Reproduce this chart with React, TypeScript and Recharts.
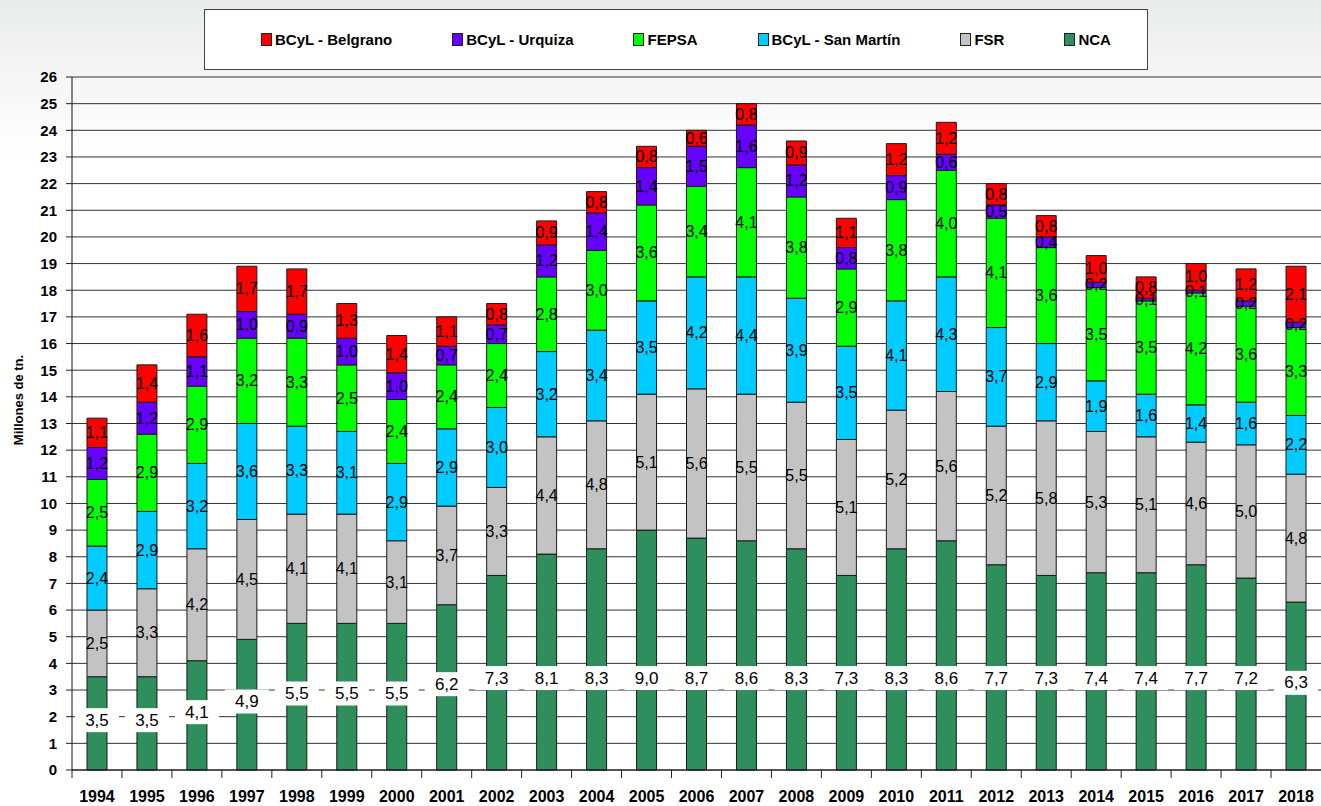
import React from "react";
import {
  Bar,
  BarChart,
  CartesianGrid,
  LabelList,
  XAxis,
  YAxis,
} from "recharts";

const years = [
  "1994", "1995", "1996", "1997", "1998", "1999", "2000", "2001", "2002",
  "2003", "2004", "2005", "2006", "2007", "2008", "2009", "2010", "2011",
  "2012", "2013", "2014", "2015", "2016", "2017", "2018",
];

const nca = [3.5, 3.5, 4.1, 4.9, 5.5, 5.5, 5.5, 6.2, 7.3, 8.1, 8.3, 9.0, 8.7, 8.6, 8.3, 7.3, 8.3, 8.6, 7.7, 7.3, 7.4, 7.4, 7.7, 7.2, 6.3];
const fsr = [2.5, 3.3, 4.2, 4.5, 4.1, 4.1, 3.1, 3.7, 3.3, 4.4, 4.8, 5.1, 5.6, 5.5, 5.5, 5.1, 5.2, 5.6, 5.2, 5.8, 5.3, 5.1, 4.6, 5.0, 4.8];
const sanMartin = [2.4, 2.9, 3.2, 3.6, 3.3, 3.1, 2.9, 2.9, 3.0, 3.2, 3.4, 3.5, 4.2, 4.4, 3.9, 3.5, 4.1, 4.3, 3.7, 2.9, 1.9, 1.6, 1.4, 1.6, 2.2];
const fepsa = [2.5, 2.9, 2.9, 3.2, 3.3, 2.5, 2.4, 2.4, 2.4, 2.8, 3.0, 3.6, 3.4, 4.1, 3.8, 2.9, 3.8, 4.0, 4.1, 3.6, 3.5, 3.5, 4.2, 3.6, 3.3];
const urquiza = [1.2, 1.2, 1.1, 1.0, 0.9, 1.0, 1.0, 0.7, 0.7, 1.2, 1.4, 1.4, 1.5, 1.6, 1.2, 0.8, 0.9, 0.6, 0.5, 0.4, 0.2, 0.1, 0.1, 0.2, 0.2];
const belgrano = [1.1, 1.4, 1.6, 1.7, 1.7, 1.3, 1.4, 1.1, 0.8, 0.9, 0.8, 0.8, 0.6, 0.8, 0.9, 1.1, 1.2, 1.2, 0.8, 0.8, 1.0, 0.8, 1.0, 1.2, 2.1];

const yTicks = [0, 1, 2, 3, 4, 5, 6, 7, 8, 9, 10, 11, 12, 13, 14, 15, 16, 17, 18, 19, 20, 21, 22, 23, 24, 25, 26];

// stack order, bottom to top
const series = [
  { key: "nca", name: "NCA", color: "#2f8f5c", values: nca },
  { key: "fsr", name: "FSR", color: "#c3c3c3", values: fsr },
  { key: "sanMartin", name: "BCyL - San Martín", color: "#00ccff", values: sanMartin },
  { key: "fepsa", name: "FEPSA", color: "#00ff00", values: fepsa },
  { key: "urquiza", name: "BCyL - Urquiza", color: "#6600ff", values: urquiza },
  { key: "belgrano", name: "BCyL - Belgrano", color: "#ff0000", values: belgrano },
];

const data = years.map((year, i) => {
  const row: Record<string, string | number> = { year };
  series.forEach((s) => {
    row[s.key] = s.values[i];
  });
  return row;
});

const W = 1321;
const H = 806;
const FONT = "'Liberation Sans', Arial, sans-serif";
const PLOT_W = 1249;

const fmt = (v: number) => v.toFixed(1).replace(".", ",");

function SegmentLabel(props: any) {
  const { x, y, width, height, value } = props;
  if (value == null) return null;
  return (
    <text
      x={x + width / 2}
      y={y + height / 2}
      textAnchor="middle"
      dominantBaseline="central"
      fontFamily={FONT}
      fontSize={16}
      fill="#000"
    >
      {fmt(Number(value))}
    </text>
  );
}

function NcaLabel(props: any) {
  const { x, y, width, height, value } = props;
  const v = Number(value);
  const perUnit = height / v;
  const cy = y + height - Math.min(v * 0.5 + 0.12, 3.45) * perUnit;
  const cx = x + width / 2;
  return (
    <g>
      <rect x={cx - 22} y={cy - 12} width={44} height={24} fill="#fff" />
      <text
        x={cx}
        y={cy}
        textAnchor="middle"
        dominantBaseline="central"
        fontFamily={FONT}
        fontSize={17}
        fill="#000"
      >
        {fmt(v)}
      </text>
    </g>
  );
}

function YearTick(props: any) {
  const { x, y, payload } = props;
  const band = PLOT_W / years.length;
  return (
    <g>
      <line x1={x - band / 2} y1={y - 8} x2={x - band / 2} y2={y} stroke="#222" />
      <text
        x={x}
        y={y + 24}
        textAnchor="middle"
        fontFamily={FONT}
        fontWeight="bold"
        fontSize={16}
        fill="#000"
      >
        {payload.value}
      </text>
    </g>
  );
}

export default function App() {
  return (
    <div
      style={{
        position: "relative",
        width: W,
        height: H,
        background: "linear-gradient(to bottom, #e9eaea 0px, #f4f4f4 60px, #ffffff 160px)",
        overflow: "hidden",
      }}
    >
      <style>{"body{margin:0}"}</style>
      <div
        style={{
          position: "absolute",
          left: 204,
          top: 9,
          width: 944,
          height: 61,
          background: "#fff",
          border: "1.5px solid #444",
          display: "flex",
          alignItems: "center",
          paddingLeft: 56,
          boxSizing: "border-box",
          gap: 60,
          fontFamily: FONT,
          fontWeight: "bold",
          fontSize: 15,
        }}
      >
        {[...series].reverse().map((s) => (
          <div key={s.key} style={{ display: "flex", alignItems: "center" }}>
            <span
              style={{
                display: "inline-block",
                width: 9,
                height: 11,
                background: s.color,
                border: "1px solid #222",
                marginRight: 3,
              }}
            />
            {s.name}
          </div>
        ))}
      </div>
      <div
        style={{
          position: "absolute",
          left: 18,
          top: 400,
          transform: "translate(-50%, -50%) rotate(-90deg)",
          fontFamily: FONT,
          fontWeight: "bold",
          fontSize: 13,
          whiteSpace: "nowrap",
        }}
      >
        Millones de tn.
      </div>
      <BarChart
        width={W}
        height={H}
        data={data}
        margin={{ top: 77, right: 0, left: 0, bottom: 0 }}
        barCategoryGap="30%"
        style={{ position: "absolute", left: 0, top: 0 }}
      >
        <CartesianGrid vertical={false} stroke="#333" strokeWidth={1} />
        <XAxis
          dataKey="year"
          tick={<YearTick />}
          tickLine={false}
          axisLine={{ stroke: "#111" }}
          interval={0}
          height={36}
        />
        <YAxis
          width={72}
          domain={[0, 26]}
          ticks={yTicks}
          interval={0}
          tickSize={6}
          tickMargin={9}
          tickLine={{ stroke: "#222" }}
          axisLine={{ stroke: "#111" }}
          tick={{ fill: "#000", fontSize: 15, fontWeight: "bold", fontFamily: FONT }}
        />
        {series.map((s) => (
          <Bar
            key={s.key}
            dataKey={s.key}
            name={s.name}
            stackId="a"
            fill={s.color}
            stroke="#1a1a1a"
            strokeWidth={1}
            isAnimationActive={false}
          >
            <LabelList
              dataKey={s.key}
              content={s.key === "nca" ? <NcaLabel /> : <SegmentLabel />}
            />
          </Bar>
        ))}
      </BarChart>
    </div>
  );
}
